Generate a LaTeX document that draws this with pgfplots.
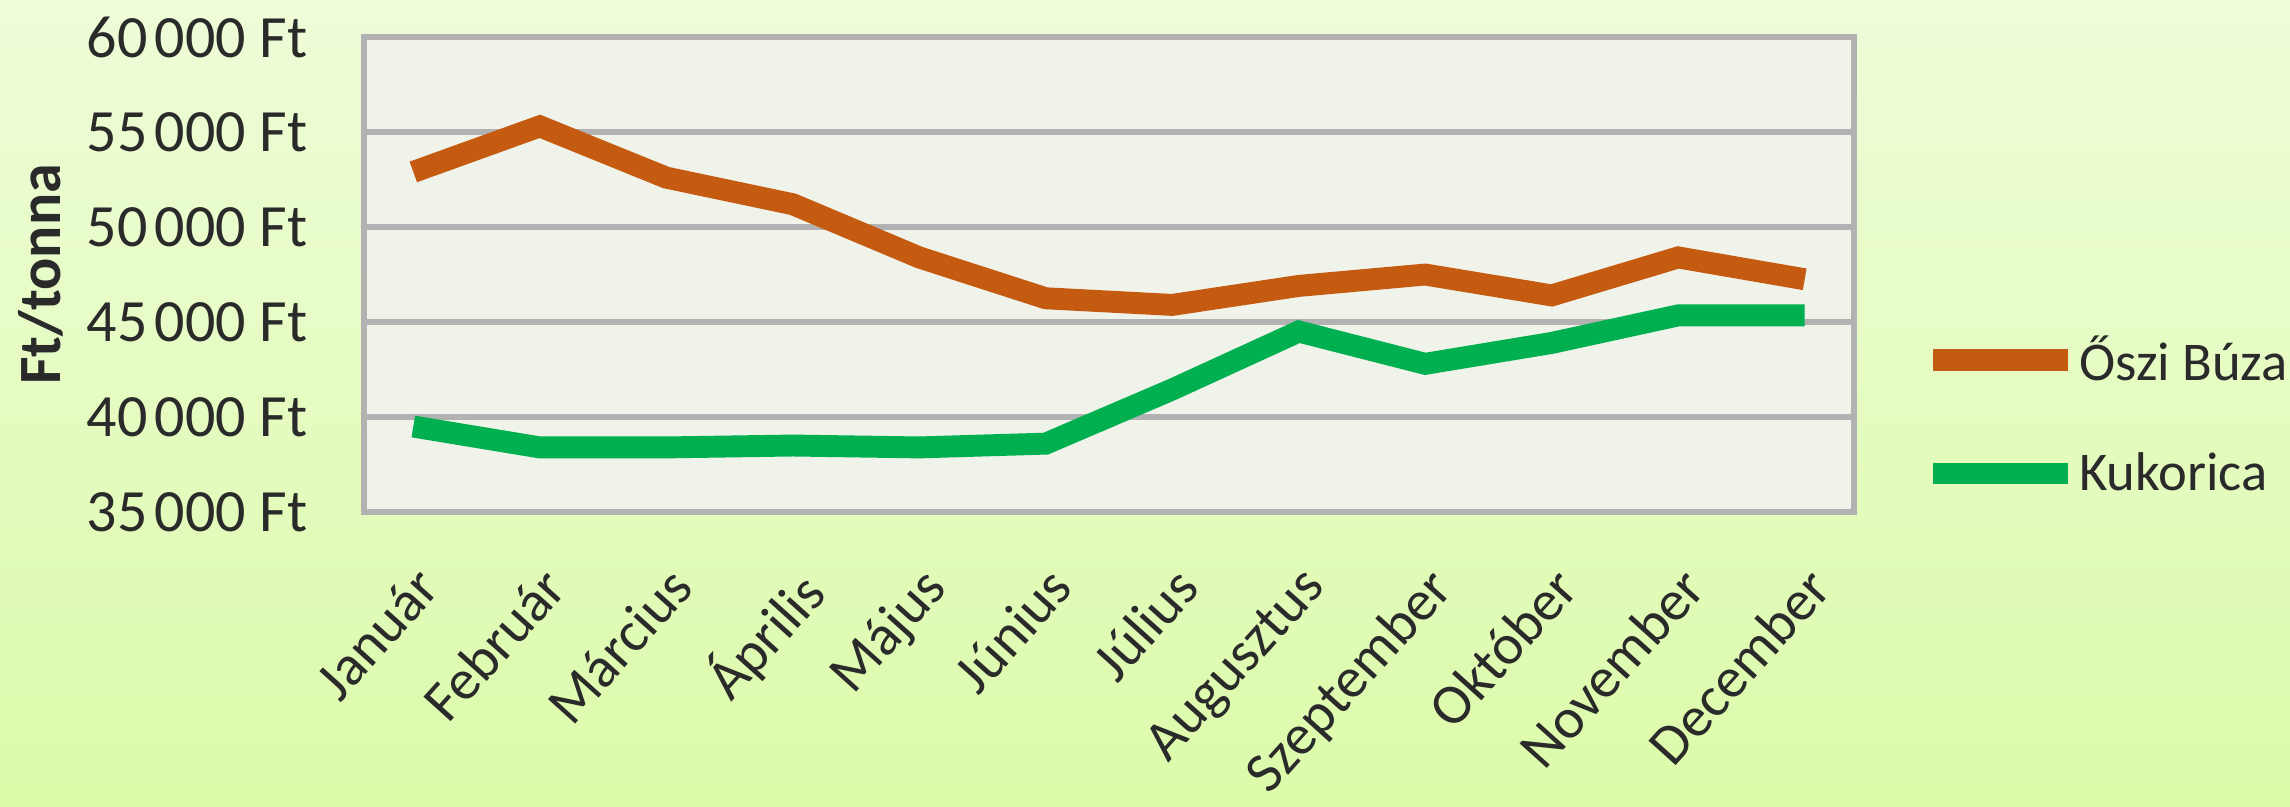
\documentclass[border=0pt]{standalone}
\usepackage{pgfplots}
\pgfplotsset{compat=1.18}
\usepackage{fontspec}
\setmainfont{Carlito}
\definecolor{bgtop}{HTML}{EEFCD8}
\definecolor{bgbot}{HTML}{DCFBAA}
\definecolor{plotbg}{HTML}{F0F3EA}
\definecolor{gridc}{HTML}{B2B2B2}
\definecolor{wheat}{HTML}{C55A11}
\definecolor{corn}{HTML}{00AF50}
\definecolor{txt}{HTML}{2A2A2A}
\begin{document}
\begin{tikzpicture}
\shade[top color=bgtop, bottom color=bgbot] (-121.33pt,-98pt) rectangle (642pt,170.67pt);
\begin{axis}[
  scale only axis, width=496.67pt, height=158.33pt,
  xmin=-0.39, xmax=11.39, ymin=35000, ymax=60000,
  scaled y ticks=false,
  axis background/.style={fill=plotbg},
  axis line style={gridc, line width=1.7pt},
  ymajorgrids, grid style={gridc, line width=1.7pt},
  ytick={35000,40000,45000,50000,55000,60000},
  yticklabels={35\hspace{0.12em}000 Ft,40\hspace{0.12em}000 Ft,45\hspace{0.12em}000 Ft,50\hspace{0.12em}000 Ft,55\hspace{0.12em}000 Ft,60\hspace{0.12em}000 Ft},
  xtick={0,...,11},
  xticklabels={Január,Február,Március,Április,Május,Június,Július,Augusztus,Szeptember,Október,November,December},
  major tick length=0pt,
  tick label style={font=\fontsize{20}{24}\selectfont, text=txt},
  yticklabel style={inner sep=0pt, anchor=east},
  yticklabel shift=18.7pt,
  xticklabel style={rotate=48, anchor=north east, inner sep=0pt, font=\fontsize{19}{23}\selectfont},
  xticklabel shift=17pt,
  ylabel={Ft/tonna},
  every axis y label/.style={at={(rel axis cs:0,0.5)}, xshift=-107.7pt, rotate=90, anchor=center, font=\bfseries\fontsize{20}{24}\selectfont, text=txt},
  legend style={at={(rel axis cs:1,0.204)}, anchor=west, xshift=22.5pt, draw=none, fill=none,
    font=\fontsize{18.2}{22}\selectfont, text=txt, row sep=22.5pt, inner sep=0pt, nodes={inner sep=0pt}},
  legend cell align=left,
  legend image code/.code={\draw[#1, line width=7.3pt, line cap=butt] (0pt,0pt) -- (45pt,0pt);},
]
\addplot[wheat, line width=7.3pt] coordinates {
(0,52900) (1,55300) (2,52600) (3,51200) (4,48400) (5,46250)
(6,45900) (7,46900) (8,47500) (9,46400) (10,48400) (11,47250)};
\addlegendentry{Őszi Búza}
\addplot[corn, line width=7.3pt] coordinates {
(0,39500) (1,38400) (2,38400) (3,38500) (4,38400) (5,38600)
(6,41450) (7,44500) (8,42800) (9,43900) (10,45350) (11,45350)};
\addlegendentry{Kukorica}
\end{axis}
\pgfresetboundingbox
\useasboundingbox (-121.33pt,-98pt) rectangle (642pt,170.67pt);
\end{tikzpicture}
\end{document}
